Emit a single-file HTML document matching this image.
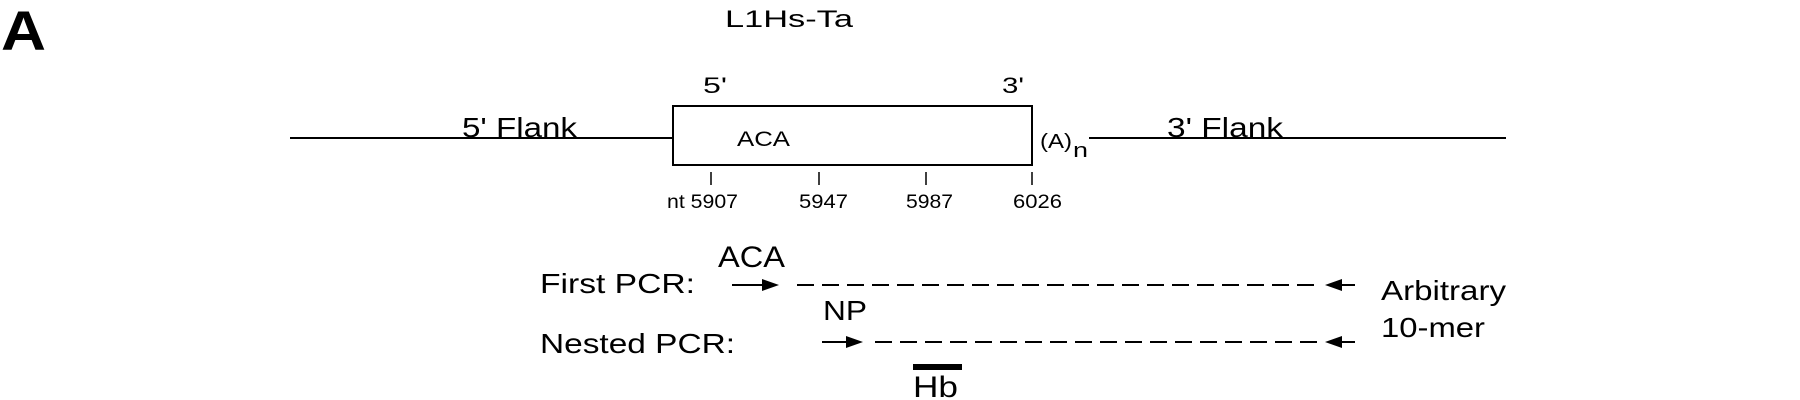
<!DOCTYPE html>
<html><head><meta charset="utf-8"><style>
html,body{margin:0;padding:0;background:#fff;}
svg{display:block;}
text{font-family:"Liberation Sans",Arial,sans-serif;fill:#000;}
</style></head><body>
<svg width="1800" height="400" viewBox="0 0 1800 400" xmlns="http://www.w3.org/2000/svg">
<text x="1" y="50" font-size="56" font-weight="bold" textLength="45" lengthAdjust="spacingAndGlyphs">A</text>
<text x="725" y="27" font-size="24" textLength="128" lengthAdjust="spacingAndGlyphs">L1Hs-Ta</text>
<text x="703" y="93" font-size="22" textLength="24" lengthAdjust="spacingAndGlyphs">5'</text>
<text x="1002" y="93" font-size="22" textLength="22" lengthAdjust="spacingAndGlyphs">3'</text>
<line x1="290" y1="138" x2="672" y2="138" stroke="#000" stroke-width="2"/>
<rect x="673" y="106" width="359" height="59" fill="none" stroke="#000" stroke-width="2"/>
<line x1="1089" y1="138" x2="1506" y2="138" stroke="#000" stroke-width="2"/>
<text x="462" y="137" font-size="28" textLength="115" lengthAdjust="spacingAndGlyphs">5' Flank</text>
<text x="1167" y="137" font-size="28" textLength="116" lengthAdjust="spacingAndGlyphs">3' Flank</text>
<text x="737" y="146" font-size="21" textLength="53" lengthAdjust="spacingAndGlyphs">ACA</text>
<text x="1040" y="148" font-size="20" textLength="32" lengthAdjust="spacingAndGlyphs">(A)</text>
<text x="1073" y="157" font-size="20" textLength="15" lengthAdjust="spacingAndGlyphs">n</text>
<g stroke="#000" stroke-width="1.5">
<line x1="711" y1="172" x2="711" y2="185"/>
<line x1="819" y1="172" x2="819" y2="185"/>
<line x1="926" y1="172" x2="926" y2="185"/>
<line x1="1032" y1="172" x2="1032" y2="185"/>
</g>
<text x="667" y="208" font-size="19" textLength="71" lengthAdjust="spacingAndGlyphs">nt 5907</text>
<text x="799" y="208" font-size="19" textLength="49" lengthAdjust="spacingAndGlyphs">5947</text>
<text x="906" y="208" font-size="19" textLength="47" lengthAdjust="spacingAndGlyphs">5987</text>
<text x="1013" y="208" font-size="19" textLength="49" lengthAdjust="spacingAndGlyphs">6026</text>
<text x="718" y="267" font-size="30" textLength="67" lengthAdjust="spacingAndGlyphs">ACA</text>
<text x="540" y="293" font-size="28" textLength="155" lengthAdjust="spacingAndGlyphs">First PCR:</text>
<line x1="732" y1="285" x2="765" y2="285" stroke="#000" stroke-width="2"/>
<polygon points="779,285 762,279 762,291" fill="#000"/>
<line x1="797" y1="285" x2="1318" y2="285" stroke="#000" stroke-width="2" stroke-dasharray="17 8"/>
<polygon points="1325,285 1342,279 1342,291" fill="#000"/>
<line x1="1338" y1="285" x2="1355" y2="285" stroke="#000" stroke-width="2"/>
<text x="823" y="320" font-size="28" textLength="44" lengthAdjust="spacingAndGlyphs">NP</text>
<text x="540" y="353" font-size="28" textLength="195" lengthAdjust="spacingAndGlyphs">Nested PCR:</text>
<line x1="822" y1="342" x2="850" y2="342" stroke="#000" stroke-width="2"/>
<polygon points="863,342 846,336 846,348" fill="#000"/>
<line x1="875" y1="342" x2="1318" y2="342" stroke="#000" stroke-width="2" stroke-dasharray="17 8"/>
<polygon points="1325,342 1342,336 1342,348" fill="#000"/>
<line x1="1338" y1="342" x2="1355" y2="342" stroke="#000" stroke-width="2"/>
<text x="1381" y="300" font-size="28" textLength="125" lengthAdjust="spacingAndGlyphs">Arbitrary</text>
<text x="1381" y="337" font-size="28" textLength="104" lengthAdjust="spacingAndGlyphs">10-mer</text>
<rect x="913" y="364" width="49" height="6" fill="#000"/>
<text x="913" y="397" font-size="30" textLength="45" lengthAdjust="spacingAndGlyphs">Hb</text>
</svg>
</body></html>
